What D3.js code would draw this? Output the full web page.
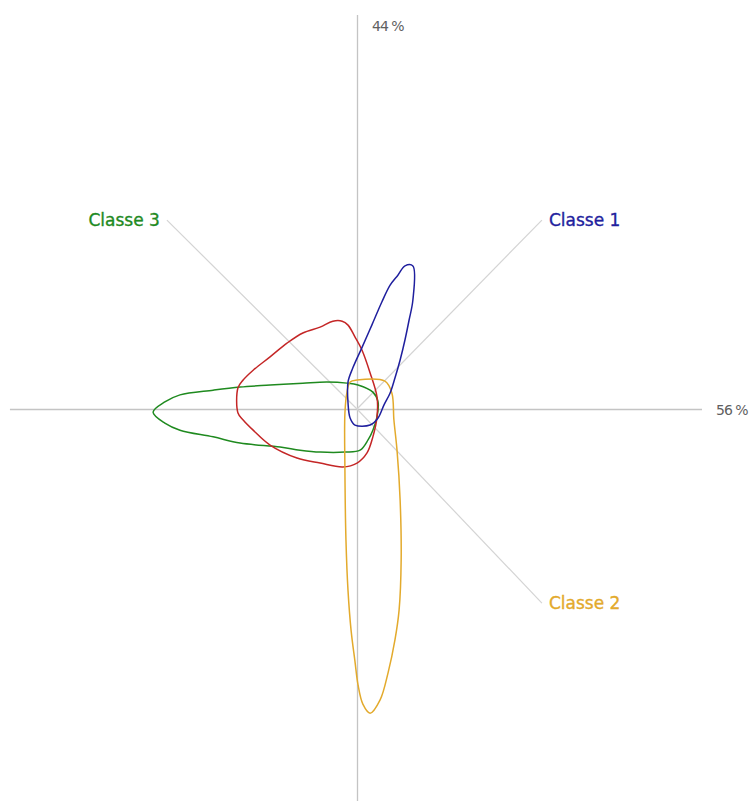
<!DOCTYPE html>
<html><head><meta charset="utf-8">
<script src="https://cdn.jsdelivr.net/npm/d3@7"></script>
<style>body{margin:0;background:#fff}svg{display:block}</style>
</head><body><svg id="c" width="753" height="803"></svg>
<script>
// Data (axis units: -100..100 on each axis)
const axisLabels = ["56 %", "44 %"];
const classNames = ["Classe 1", "Classe 2", "Classe 3"];
const classColors = ["#1f1f9e", "#e3aa2c", "#1f8a1f", "#c42626"];
const labelX = [53.6, 53.6, -55.1];
const labelY = [48.2, -49.5, 48.2];
const classe1 = [[-0.6,-4.1],[-2.0,-2.3],[-2.6,1.5],[-2.6,6.9],[-1.2,10.5],[1.4,15.6],[4.3,21.4],[7.2,27.3],[9.6,31.6],[11.9,34.2],[13.9,36.5],[16.2,36.5],[16.2,27.8],[15.1,22.7],[13.9,17.6],[12.5,12.5],[11.0,7.9],[9.6,4.1],[7.8,1.0],[6.1,-2.3],[3.8,-4.1]];
const classe2 = [[-2.0,6.9],[0,7.4],[8.1,7.1],[10.1,4.1],[10.7,-2.8],[11.6,-10.5],[12.5,-23.2],[12.8,-38.5],[12.2,-51.3],[11.0,-58.9],[9.0,-67.3],[6.7,-74.2],[3.8,-77.6],[1.7,-75.3],[0.3,-70.4],[-0.6,-64.3],[-1.7,-56.6],[-2.6,-46.4],[-3.2,-33.4],[-3.5,-15.6],[-3.5,-1.0],[-2.9,4.3]];
const classe3 = [[-59.1,-0.8],[-55.7,1.8],[-51.3,3.6],[-41.7,4.8],[-33.9,5.6],[-25.2,6.1],[-15.7,6.6],[-8.7,6.9],[-2.9,6.6],[0.3,6.1],[4.6,4.3],[6.1,1.8],[5.8,-2.0],[4.6,-5.4],[3.2,-7.9],[0.9,-10.5],[-3.5,-11.0],[-10.7,-11.0],[-16.5,-10.5],[-22.3,-9.7],[-33.9,-8.7],[-41.7,-7.1],[-51.3,-5.4],[-55.7,-3.6]];
const classe4 = [[-7.0,22.4],[-4.3,22.4],[-2.6,21.4],[-0.6,18.4],[1.4,15.1],[3.8,9.2],[5.8,3.1],[5.8,-2.0],[4.6,-7.1],[2.9,-11.2],[0,-13.8],[-4.1,-14.8],[-10.7,-13.8],[-17.4,-12.5],[-25.2,-9.2],[-30.1,-5.4],[-33.0,-2.8],[-34.5,-1.0],[-34.5,5.4],[-33.0,7.4],[-30.1,9.9],[-25.2,13.3],[-20.3,16.8],[-15.7,19.4],[-10.7,20.9]];

const svg = d3.select("#c");
const x = d3.scaleLinear().domain([-100,100]).range([12,702]);
const y = d3.scaleLinear().domain([-100,100]).range([801,17]);

// axes
svg.append("line").attr("x1",x(-100.6)).attr("x2",x(100)).attr("y1",y(0)+0.5).attr("y2",y(0)+0.5)
  .attr("stroke","#c4c4c4").attr("stroke-width",1.3);
svg.append("line").attr("x1",x(0)+0.5).attr("x2",x(0)+0.5).attr("y1",y(100.5)).attr("y2",y(-100))
  .attr("stroke","#c4c4c4").attr("stroke-width",1.3);
svg.append("text").attr("x",x(100)+14).attr("y",y(0)+6).text(axisLabels[0])
  .attr("font-family","DejaVu Sans").attr("font-size",14).attr("fill","#606060").attr("letter-spacing",-1);
svg.append("text").attr("x",x(0)+15).attr("y",y(100.5)+16).text(axisLabels[1])
  .attr("font-family","DejaVu Sans").attr("font-size",14).attr("fill","#606060").attr("letter-spacing",-1);

// label leader lines
classNames.forEach((n,i)=>{
  svg.append("line").attr("x1",x(0)).attr("y1",y(0)).attr("x2",x(labelX[i])).attr("y2",y(labelY[i]))
    .attr("stroke","#d4d4d4").attr("stroke-width",1.2);
});

const line = d3.line().x(d=>x(d[0])).y(d=>y(d[1])).curve(d3.curveCatmullRomClosed.alpha(0.5));
const shapes = [[classe3,classColors[2]],[classe4,classColors[3]],[classe2,classColors[1]],[classe1,classColors[0]]];
shapes.forEach(([pts,c])=>{
  svg.append("path").attr("d",line(pts)).attr("fill","none").attr("stroke",c).attr("stroke-width",1.5);
});

// labels
classNames.forEach((n,i)=>{
  const left = labelX[i] < 0;
  svg.append("text").attr("x",x(labelX[i]) + (left?-7:7)).attr("y",y(labelY[i])+6)
    .attr("text-anchor",left?"end":"start").text(n)
    .attr("font-family","DejaVu Sans").attr("font-size",17).attr("fill",classColors[i])
    .attr("stroke",classColors[i]).attr("stroke-width",0.35);
});
</script></body></html>
